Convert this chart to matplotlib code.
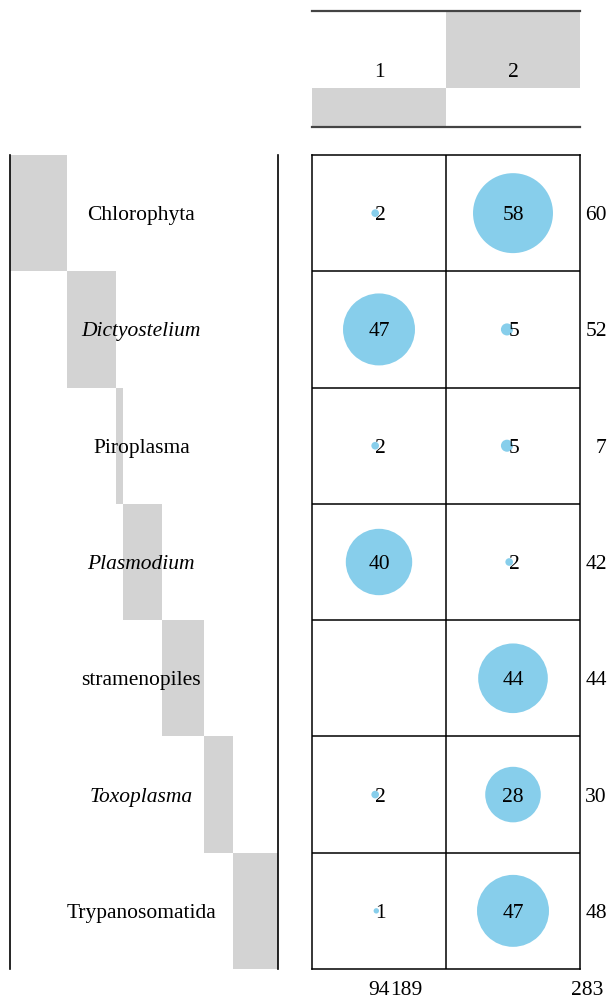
import matplotlib.pyplot as plt
import numpy as np

plt.rcParams['font.family'] = ['Liberation Serif', 'DejaVu Serif']

# data
taxa = ["Chlorophyta", "Dictyostelium", "Piroplasma", "Plasmodium",
        "stramenopiles", "Toxoplasma", "Trypanosomatida"]
italic = [False, True, False, True, False, True, False]
clusters = ["1", "2"]
count_c1 = [2, 47, 2, 40, 0, 2, 1]
count_c2 = [58, 5, 5, 2, 44, 28, 47]

counts = np.array([count_c1, count_c2]).T
row_tot = counts.sum(axis=1)
col_tot = counts.sum(axis=0)
grand = counts.sum()

W, H = 611, 999
fig = plt.figure(figsize=(W / 100, H / 100), dpi=100)


def box(l, t, r, b):
    return [l / W, 1 - b / H, (r - l) / W, (b - t) / H]


grey = "#d3d3d3"
blue = "#87ceeb"
fs = 15.5
va = "center_baseline"

# header: column marginals
axh = fig.add_axes(box(312, 11, 580, 127))
col_frac = col_tot / grand
col_start = np.concatenate([[0], np.cumsum(col_frac)[:-1]])
axh.bar(np.arange(2) + 0.5, col_frac, bottom=col_start, width=1, color=grey)
for j, lab in enumerate(clusters):
    axh.text(j + 0.5, 0.49, lab, ha="center", va=va, fontsize=fs)
axh.set_xlim(0, 2)
axh.set_ylim(0, 1)
axh.set_xticks([])
axh.set_yticks([])
for s in ["left", "right"]:
    axh.spines[s].set_visible(False)
for s in ["top", "bottom"]:
    axh.spines[s].set_color("#444444")
    axh.spines[s].set_linewidth(1.6)

# left: row marginals
axl = fig.add_axes(box(10, 155, 278, 969))
row_frac = row_tot / grand
row_start = np.concatenate([[0], np.cumsum(row_frac)[:-1]])
axl.barh(np.arange(7) + 0.5, row_frac, left=row_start, height=1, color=grey)
for i, name in enumerate(taxa):
    axl.text(0.49, i + 0.5, name, ha="center", va=va, fontsize=fs,
             style="italic" if italic[i] else "normal")
axl.set_xlim(0, 1)
axl.set_ylim(7, 0)
axl.set_xticks([])
axl.set_yticks([])
for s in ["top", "bottom"]:
    axl.spines[s].set_visible(False)
for s in ["left", "right"]:
    axl.spines[s].set_linewidth(1.2)

# main grid
axg = fig.add_axes(box(312, 155, 580, 969))
axg.set_xlim(0, 2)
axg.set_ylim(7, 0)
axg.set_xticks([])
axg.set_yticks([])
for k in range(1, 7):
    axg.axhline(k, color="black", lw=1.1)
axg.axvline(1, color="black", lw=1.1)
for s in axg.spines.values():
    s.set_linewidth(1.1)

cell_px = 134.0  # width of one column in pixels


def dot_radius(v):
    v = np.asarray(v, dtype=float)
    return np.where(v < 10, 2.7 * np.sqrt(v), 5.25 * np.sqrt(v))


ii, jj = np.nonzero(counts)
vals = counts[ii, jj]
r_px = dot_radius(vals)
# small dots sit just left of the cell centre, as in the original
shift = np.where(vals < 10, -r_px / cell_px, 0)
axg.scatter(jj + 0.5 + shift, ii + 0.5, s=(2 * r_px * 0.72) ** 2, color=blue,
            edgecolors="none", zorder=2)
for i, j, v in zip(ii, jj, vals):
    dx = 0.01 if v < 10 else 0
    axg.text(j + 0.5 + dx, i + 0.5, str(v), ha="center", va=va,
             fontsize=fs, zorder=3)

# totals
for i, t in enumerate(row_tot):
    axg.text(2.2, i + 0.5, str(t), ha="right", va=va, fontsize=fs,
             clip_on=False)
ty = 7.165
axg.text(0.5, ty, str(col_tot[0]), ha="center", va=va, fontsize=fs,
         clip_on=False)
axg.text(0.5 + 0.08, ty, str(col_tot[1]), ha="left", va=va,
         fontsize=fs, clip_on=False)
axg.text(2.172, ty, str(grand), ha="right", va=va, fontsize=fs,
         clip_on=False)

fig.savefig("out.png", dpi=100)
